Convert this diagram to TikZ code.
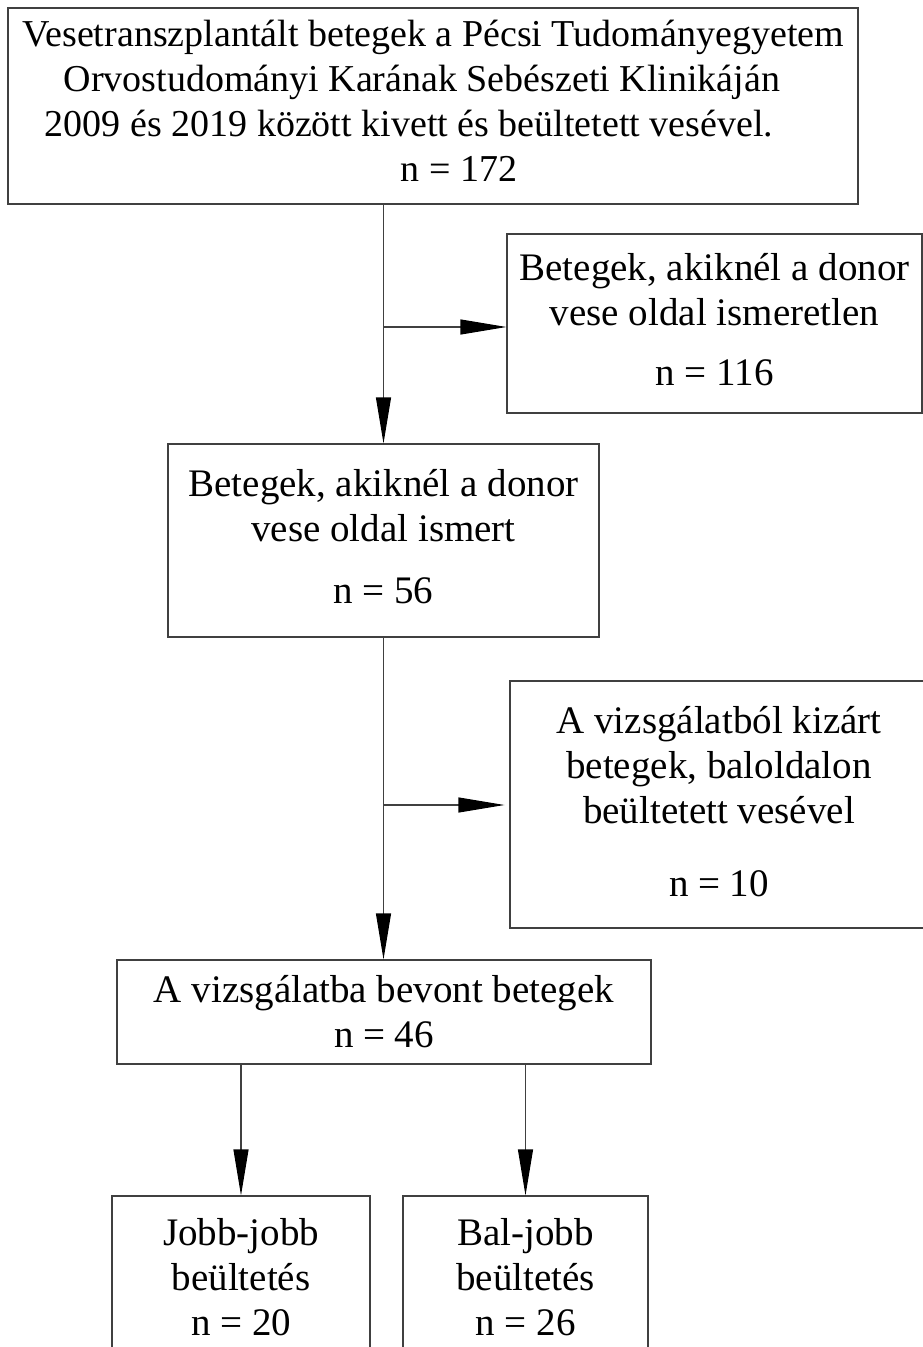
\documentclass[tikz,border=0pt]{standalone}
\usepackage{fontspec}
\setmainfont{Liberation Serif}
\usetikzlibrary{arrows.meta}
\definecolor{linegray}{rgb}{0.25,0.25,0.25}
\newcommand{\dstrut}[1]{\rule[-#1]{0pt}{#1}}
\tikzset{
  flowbox/.style={draw=linegray, line width=1.1pt, align=center, inner sep=0pt,
    font=\fontsize{39}{45}\selectfont, text=black},
  conn/.style={draw=linegray, line width=1.1pt, -{Triangle[length=46pt,width=15pt,black]}},
}
\begin{document}
\begin{tikzpicture}[x=1pt,y=-1pt]
\path[use as bounding box] (0,0) rectangle (923,1347);

\node[flowbox, font=\fontsize{38}{45}\selectfont, minimum width=850pt, minimum height=196pt] (b1) at (433,106)
 {Vesetranszplantált betegek a Pécsi Tudományegyetem\\
  Orvostudományi Karának Sebészeti Klinikáján\hspace*{22pt}\mbox{}\\
  2009 és 2019 között kivett és beültetett vesével.\hspace*{48pt}\mbox{}\\
  \hspace*{52pt}n = 172\dstrut{10pt}};

\node[flowbox, minimum width=415pt, minimum height=179pt] (b2) at (714.5,323.5)
 {Betegek, akiknél a donor\\ vese oldal ismeretlen\\[15pt] n = 116\dstrut{8pt}};

\node[flowbox, minimum width=431pt, minimum height=193pt] (b3) at (383.5,540.5)
 {Betegek, akiknél a donor\\ vese oldal ismert\\[17pt] n = 56\dstrut{8pt}};

\node[flowbox, minimum width=418pt, minimum height=247pt] (b4) at (719,804.5)
 {A vizsgálatból kizárt\\ betegek, baloldalon\\ beültetett vesével\\[28pt] n = 10\dstrut{6pt}};

\node[flowbox, minimum width=534pt, minimum height=104pt] (b5) at (384,1012)
 {A vizsgálatba bevont betegek\\ n = 46};

\node[flowbox, minimum width=258pt, minimum height=162pt] (b6) at (241,1277)
 {Jobb-jobb\\ beültetés\\ n = 20};

\node[flowbox, minimum width=245pt, minimum height=162pt] (b7) at (525.5,1277)
 {Bal-jobb\\ beültetés\\ n = 26};

\coordinate (j1) at (383.5,327);
\coordinate (j2) at (383.5,805);

\draw[conn] (b1.south -| b3.north) -- (b3.north);
\draw[conn] (j1) -- (j1 -| b2.west);
\draw[conn] (b3.south) -- (b3.south |- b5.north);
\draw[conn, shorten >=5pt] (j2) -- (j2 -| b4.west);
\draw[conn] (b5.south -| b6.north) -- (b6.north);
\draw[conn] (b5.south -| b7.north) -- (b7.north);
\end{tikzpicture}
\end{document}
